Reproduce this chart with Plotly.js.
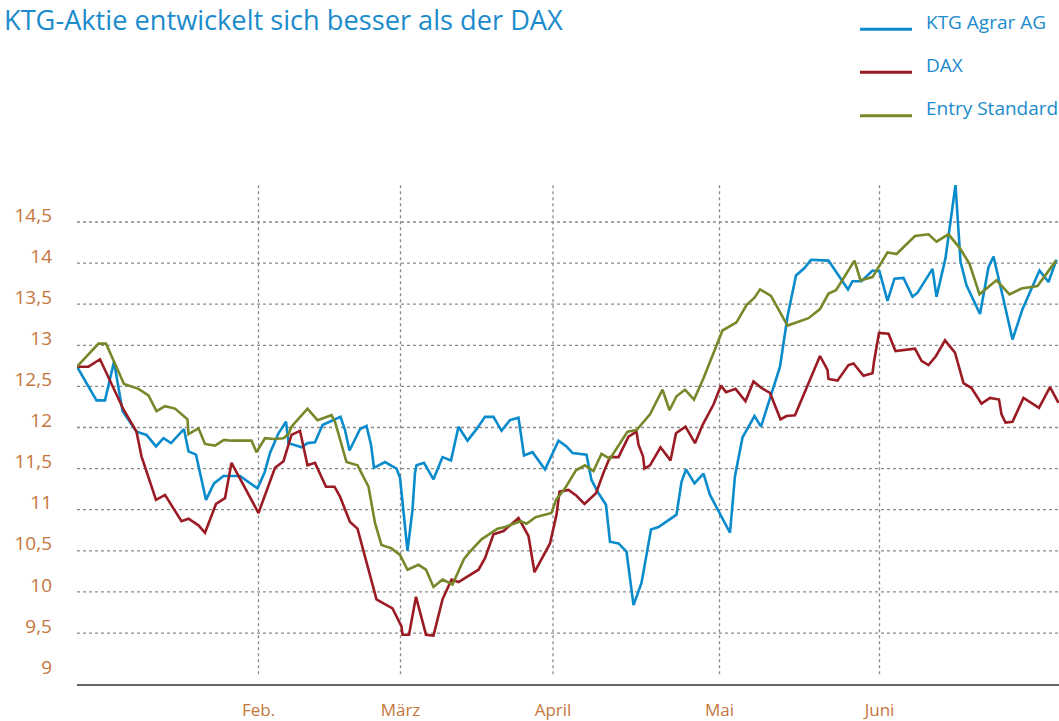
<!DOCTYPE html>
<html>
<head>
<meta charset="utf-8">
<script src="https://cdn.plot.ly/plotly-3.0.1.min.js"></script>
<style>
  html, body { margin: 0; padding: 0; background: #ffffff; }
  #chart { width: 1059px; height: 721px; }
</style>
</head>
<body>
<div id="chart"></div>
<script>
// ---- Data (x = Handelstag-Index, y = Kurs / indexiert) ----
const seriesNames = ['KTG Agrar AG', 'DAX', 'Entry Standard'];

const ktgX = [0, 3.9, 5.6, 7.4, 9.1, 11.9, 13.9, 15.8, 17.3, 18.8, 21.4, 22.3, 23.8, 25.8, 27.4, 29.3, 32.6, 36.1, 37.5, 38.6, 40.3, 41.8, 42.3, 44.9, 46.1, 47.6, 49.1, 52.7, 53.6, 54.5, 56.6, 57.9, 58.8, 59.4, 61.6, 63.9, 64.6, 65.4, 66.1, 67.1, 67.6, 67.9, 69.4, 71.3, 73.1, 74.8, 76.3, 78.1, 79.9, 81.6, 83.3, 84.9, 86.6, 88.3, 89.4, 91.1, 93.6, 96.3, 97.9, 99.1, 101.9, 102.9, 104.3, 105.8, 106.6, 108.3, 109.9, 111.3, 112.9, 114.8, 116.3, 119.9, 120.9, 121.8, 123.5, 125.3, 126.6, 130.6, 131.6, 133.1, 135.5, 136.8, 140.6, 142.1, 143.8, 145.5, 146.8, 150.3, 154.2, 155.1, 156.9, 159.1, 160.5, 162.1, 163.5, 165.3, 167.1, 168.1, 171.1, 171.9, 173.7, 175.7, 176.7, 177.9, 180.6, 182.3, 183.3, 185.4, 187.1, 189.1, 192.5, 194.3, 195.9];
const ktgY = [12.74, 12.33, 12.33, 12.80, 12.20, 11.95, 11.91, 11.77, 11.87, 11.81, 11.98, 11.71, 11.67, 11.12, 11.32, 11.41, 11.41, 11.26, 11.45, 11.69, 11.93, 12.07, 11.81, 11.76, 11.81, 11.82, 12.03, 12.13, 11.97, 11.72, 11.98, 12.02, 11.79, 11.51, 11.58, 11.50, 11.39, 10.92, 10.50, 11.00, 11.45, 11.54, 11.57, 11.37, 11.64, 11.60, 12.01, 11.84, 11.98, 12.13, 12.13, 11.96, 12.09, 12.12, 11.66, 11.70, 11.49, 11.84, 11.77, 11.69, 11.67, 11.36, 11.20, 11.06, 10.61, 10.59, 10.49, 9.84, 10.11, 10.76, 10.79, 10.94, 11.34, 11.49, 11.32, 11.44, 11.18, 10.72, 11.41, 11.88, 12.14, 12.01, 12.74, 13.35, 13.85, 13.94, 14.04, 14.03, 13.68, 13.78, 13.78, 13.91, 13.90, 13.54, 13.81, 13.82, 13.59, 13.64, 13.93, 13.59, 14.06, 14.95, 14.02, 13.73, 13.38, 13.95, 14.08, 13.53, 13.07, 13.44, 13.91, 13.77, 14.04];

const daxX = [0, 2.3, 4.6, 9.3, 11.9, 12.9, 15.8, 17.6, 20.9, 22.3, 24.3, 25.6, 27.8, 29.6, 30.9, 36.3, 39.6, 41.3, 42.9, 44.6, 46.1, 47.6, 49.8, 51.5, 52.6, 54.6, 56.1, 59.9, 61.3, 63.1, 64.9, 65.1, 66.4, 67.8, 69.8, 71.3, 73.1, 74.9, 76.3, 80.3, 81.6, 83.3, 85.3, 88.3, 90.3, 91.5, 94.6, 95.9, 96.5, 98.3, 99.9, 101.5, 103.8, 105.3, 106.6, 108.3, 110.3, 111.9, 112.3, 113.2, 113.5, 114.6, 116.7, 118.7, 119.8, 121.7, 123.6, 125.1, 127.3, 128.8, 129.8, 131.7, 133.7, 135.3, 136.9, 138.6, 140.7, 141.9, 143.6, 148.6, 150.1, 150.3, 152.1, 154.3, 155.3, 157.3, 159.1, 159.4, 160.4, 162.3, 163.7, 167.6, 168.9, 170.3, 171.8, 173.6, 175.6, 177.3, 178.9, 180.9, 182.6, 184.4, 184.9, 185.7, 187.1, 189.3, 192.4, 194.6, 196.3];
const daxY = [12.74, 12.74, 12.83, 12.22, 11.95, 11.65, 11.12, 11.18, 10.86, 10.89, 10.81, 10.72, 11.07, 11.14, 11.57, 10.96, 11.51, 11.59, 11.91, 11.96, 11.54, 11.57, 11.28, 11.28, 11.16, 10.85, 10.77, 9.91, 9.86, 9.80, 9.58, 9.48, 9.48, 9.94, 9.48, 9.47, 9.91, 10.15, 10.12, 10.27, 10.41, 10.70, 10.74, 10.90, 10.68, 10.24, 10.59, 10.94, 11.22, 11.24, 11.17, 11.07, 11.20, 11.45, 11.64, 11.64, 11.89, 11.95, 11.79, 11.65, 11.50, 11.54, 11.76, 11.60, 11.93, 12.01, 11.81, 12.03, 12.28, 12.51, 12.43, 12.47, 12.32, 12.56, 12.48, 12.42, 12.10, 12.14, 12.15, 12.87, 12.70, 12.59, 12.57, 12.76, 12.78, 12.63, 12.66, 12.80, 13.15, 13.14, 12.93, 12.96, 12.81, 12.76, 12.87, 13.06, 12.91, 12.54, 12.48, 12.29, 12.36, 12.34, 12.16, 12.06, 12.07, 12.36, 12.24, 12.49, 12.30];

const entryX = [0, 4.3, 5.8, 9.4, 12.3, 14.3, 15.9, 17.6, 19.6, 22.1, 22.3, 24.3, 25.6, 27.6, 29.4, 30.9, 34.9, 35.9, 37.6, 39.3, 41.3, 42.3, 42.9, 46.1, 48.1, 50.9, 51.6, 53.9, 56.1, 58.3, 59.6, 60.9, 62.9, 64.6, 66.1, 68.3, 69.8, 71.3, 73.1, 75.1, 77.4, 78.6, 80.9, 84.1, 85.6, 88.7, 89.9, 91.7, 94.9, 95.8, 97.6, 99.8, 101.6, 103.3, 104.9, 106.6, 110.1, 111.9, 114.6, 117.1, 118.5, 119.9, 121.6, 123.4, 125.3, 127.3, 129.1, 131.9, 133.9, 135.5, 136.6, 138.8, 142.1, 146.3, 148.6, 150.3, 151.8, 155.5, 156.7, 159.1, 162.1, 163.9, 167.6, 170.3, 171.9, 174.3, 176.6, 178.5, 180.5, 183.9, 186.5, 188.9, 192.1, 195.8];
const entryY = [12.74, 13.02, 13.02, 12.53, 12.47, 12.39, 12.20, 12.26, 12.23, 12.10, 11.92, 11.99, 11.80, 11.78, 11.85, 11.84, 11.84, 11.70, 11.87, 11.86, 11.87, 11.92, 12.01, 12.23, 12.09, 12.15, 12.07, 11.58, 11.54, 11.28, 10.84, 10.57, 10.53, 10.45, 10.27, 10.33, 10.27, 10.06, 10.15, 10.09, 10.40, 10.49, 10.64, 10.77, 10.79, 10.86, 10.83, 10.91, 10.96, 11.12, 11.26, 11.48, 11.54, 11.47, 11.68, 11.62, 11.95, 11.97, 12.16, 12.46, 12.21, 12.38, 12.46, 12.34, 12.60, 12.91, 13.18, 13.28, 13.49, 13.58, 13.68, 13.60, 13.24, 13.33, 13.44, 13.63, 13.67, 14.03, 13.79, 13.83, 14.13, 14.11, 14.33, 14.35, 14.26, 14.35, 14.18, 13.99, 13.62, 13.79, 13.62, 13.69, 13.72, 14.03];

const monthTickVals = [36.3, 64.7, 95.2, 128.5, 160.5];
const monthLabels = ['Feb.', 'März', 'April', 'Mai', 'Juni'];
const yTickVals = [9, 9.5, 10, 10.5, 11, 11.5, 12, 12.5, 13, 13.5, 14, 14.5];

// ---- Styles ----
const colors = ['#0a8bcb', '#9b1b24', '#76882a'];
const blueText = '#1b8bcc';
const orange = '#c5763d';
const gridColor = '#8a8a8a';
const FONT = 'Open Sans, sans-serif';

// plot box in pixels
const W = 1059, H = 721;
const box = { l: 77, r: 1059, t: 185, b: 684 };
const px2x = p => (p - box.l) / (box.r - box.l);
const px2y = p => (box.b - p) / (box.b - box.t);

const xs = [ktgX, daxX, entryX];
const ys = [ktgY, daxY, entryY];
const traces = seriesNames.map((n, i) => ({
  type: 'scatter', mode: 'lines', name: n,
  x: xs[i], y: ys[i],
  line: { color: colors[i], width: 2.6 },
  showlegend: false, hoverinfo: 'skip'
}));

const yLow = 8.88, yHigh = 14.95;
const shapes = [];
// horizontal dotted gridlines (none at the lowest tick)
yTickVals.filter(v => v > yTickVals[0]).forEach(v => shapes.push({
  type: 'line', xref: 'paper', yref: 'y', x0: 0, x1: 1, y0: v, y1: v,
  line: { color: gridColor, width: 1.3, dash: 'dot' }, layer: 'below'
}));
// vertical dotted gridlines at month starts, from the lowest tick to the top
monthTickVals.forEach(v => shapes.push({
  type: 'line', xref: 'x', yref: 'y', x0: v, x1: v, y0: yTickVals[0], y1: yHigh,
  line: { color: gridColor, width: 1.3, dash: 'dot' }, layer: 'below'
}));

// manual legend
const legendLineY = [29.3, 72.3, 115.7];
const legendTextY = [22, 65, 108];
const annotations = [];
seriesNames.forEach((n, i) => {
  shapes.push({
    type: 'line', xref: 'paper', yref: 'paper',
    x0: px2x(860), x1: px2x(912), y0: px2y(legendLineY[i]), y1: px2y(legendLineY[i]),
    line: { color: colors[i], width: 3 }
  });
  annotations.push({
    xref: 'paper', yref: 'paper', x: px2x(924), y: px2y(legendTextY[i]),
    xanchor: 'left', yanchor: 'middle', showarrow: false, text: n,
    font: { family: FONT, size: 19, color: blueText }
  });
});

const layout = {
  width: W, height: H,
  margin: { l: box.l, r: W - box.r, t: box.t, b: H - box.b, pad: 0 },
  paper_bgcolor: '#ffffff', plot_bgcolor: '#ffffff',
  separators: ',.',
  font: { family: FONT, color: orange },
  title: {
    text: 'KTG-Aktie entwickelt sich besser als der DAX',
    x: 4 / W, xanchor: 'left', xref: 'container',
    y: 1 - 20 / H, yanchor: 'middle', yref: 'container',
    font: { family: FONT, size: 27.2, color: blueText }
  },
  xaxis: {
    range: [0, 196.4], showgrid: false, zeroline: false,
    tickmode: 'array', tickvals: monthTickVals, ticktext: monthLabels,
    ticks: '', showline: true, linecolor: '#666666', linewidth: 1.6,
    tickfont: { family: FONT, size: 17, color: orange },
    ticklabelstandoff: 10
  },
  yaxis: {
    range: [yLow, yHigh], showgrid: false, zeroline: false,
    tickmode: 'array', tickvals: yTickVals,
    ticks: '', showline: false,
    tickfont: { family: FONT, size: 19, color: orange },
    ticklabelstandoff: 24, ticklabelshift: -7
  },
  shapes: shapes,
  annotations: annotations,
  showlegend: false
};

Plotly.newPlot('chart', traces, layout, { displayModeBar: false, staticPlot: true });
</script>
</body>
</html>
